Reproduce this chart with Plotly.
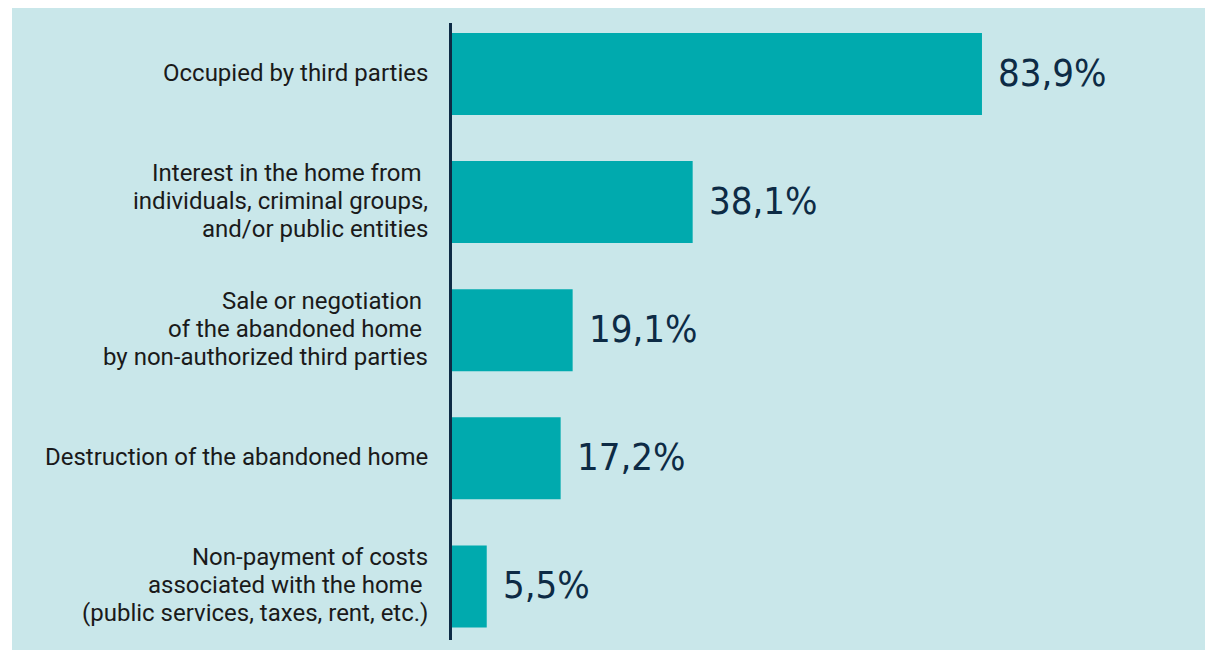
import plotly.graph_objects as go

categories = [
    "Occupied by third parties",
    "Interest in the home from\u00a0<br>individuals, criminal groups,<br>and/or public entities",
    "Sale or negotiation\u00a0<br>of the abandoned home\u00a0<br>by non-authorized third parties",
    "Destruction of the abandoned home",
    "Non-payment of costs<br>associated with the home\u00a0<br>(public services, taxes, rent, etc.)",
]
values = [83.9, 38.1, 19.1, 17.2, 5.5]
value_labels = ["83,9%", "38,1%", "19,1%", "17,2%", "5,5%"]

# page has an 8px body margin; figure overflows slightly so the panel reaches the edges
W, H = 1213, 650
ML, MR, MT, MB = 444, 11, 15, 18
PW = W - ML - MR
PH = H - MT - MB

BG = "#c9e7ea"
BAR = "#00aaae"
NAVY = "#0d2b45"
TXT = "#1a1a1a"

fig = go.Figure()
fig.add_trace(go.Bar(
    y=categories, x=values, orientation="h",
    marker=dict(color=BAR, line=dict(width=0)),
    width=0.64, hoverinfo="skip",
))

for c, v, t in zip(categories, values, value_labels):
    fig.add_annotation(
        x=v, y=c, text=t, showarrow=False, xanchor="left", yanchor="middle",
        xshift=14, yshift=1,
        font=dict(family="DejaVu Sans Condensed, DejaVu Sans", size=38, color=NAVY),
    )
    lines = c.split("<br>")
    n = len(lines)
    for j, ln in enumerate(lines):
        fig.add_annotation(
            x=0, xref="paper", y=c, text=ln, showarrow=False,
            xanchor="right", yanchor="middle",
            xshift=-22, yshift=((n - 1) / 2 - j) * 28 + 1,
            font=dict(family="Roboto", size=24, color=TXT),
        )

# light panel background
fig.add_shape(
    type="rect", xref="paper", yref="paper", layer="below",
    x0=(4 - ML) / PW, x1=(W - ML + 10) / PW,
    y0=-(MB + 10) / PH, y1=(PH + MT + 10) / PH,
    fillcolor=BG, line=dict(width=0),
)

fig.update_layout(
    width=W, height=H,
    margin=dict(l=ML, r=MR, t=MT, b=MB),
    paper_bgcolor="white",
    plot_bgcolor="rgba(0,0,0,0)",
    showlegend=False,
    xaxis=dict(range=[0, 120], visible=False, fixedrange=True),
    yaxis=dict(
        type="category",
        range=[4.418, -0.398],
        showline=True, linecolor=NAVY, linewidth=3,
        showgrid=False, zeroline=False,
        ticks="", showticklabels=False,
        fixedrange=True,
    ),
)

fig.write_html("out.html")
